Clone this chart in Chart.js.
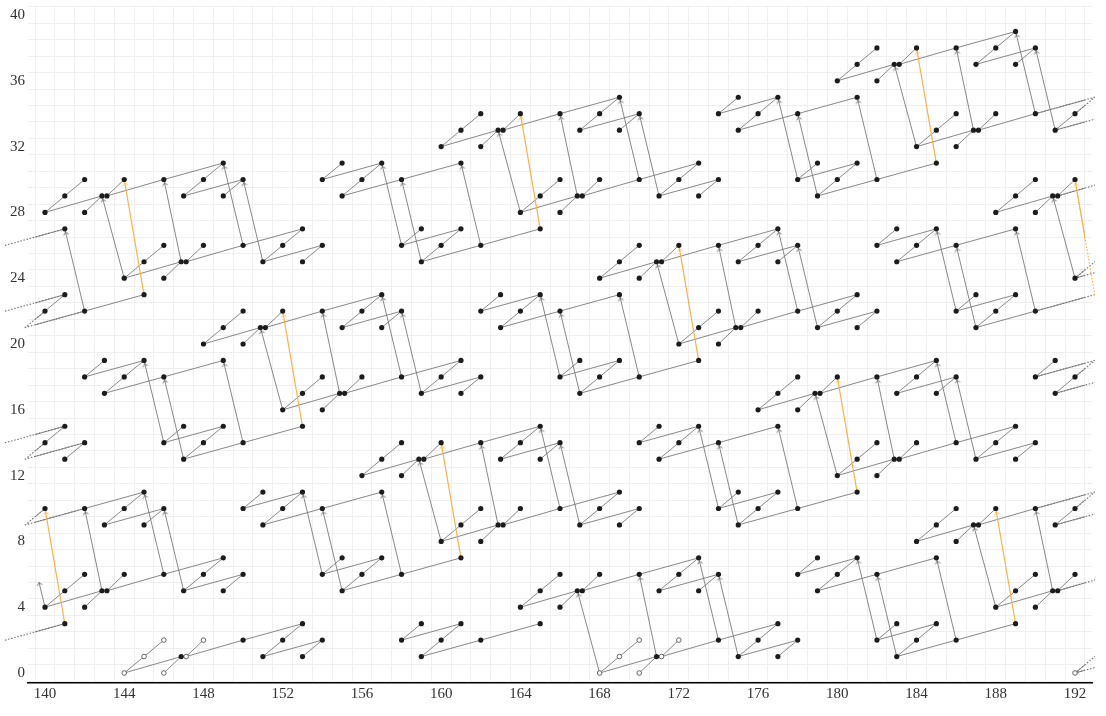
<!DOCTYPE html>
<html><head><meta charset="utf-8">
<script src="https://cdn.jsdelivr.net/npm/chart.js@4.4.1/dist/chart.umd.min.js"></script>
<style>html,body{margin:0;padding:0;background:#fff;}#wrap{width:1106px;height:716px;}</style>
</head><body><div id="wrap"><canvas id="c" width="1106" height="716"></canvas></div>
<script>
// ---------------- data ----------------
const xTickLabels = [140,144,148,152,156,160,164,168,172,176,180,184,188,192];
const yTickLabels = [0,4,8,12,16,20,24,28,32,36,40];

// open circles
const openDots = [[144,0],[146,0],[168,0],[170,0],[192,0],[145,1],[169,1],[146,2],[148,2],[170,2],[172,2]];
// two filled classes at one spot
const filledPairs = [[143,5],[167,5],[191,5],[163,9],[187,9],[159,13],[183,13],[155,17],[179,17],
  [151,21],[175,21],[147,25],[171,25],[143,29],[167,29],[191,29],[163,33],[187,33],[183,37]];
// filled class (left) and open class (right) at one spot
const mixedPairs = [[147,1],[171,1]];
// single filled dots, per row: [y, [x...]]
const filledDotRows = [
 [1,[151,153,159,175,177,183]],
 [2,[150,152,154,158,160,162,174,176,178,182,184,186]],
 [3,[141,153,159,161,165,177,183,185,189]],
 [4,[140,142,164,166,188,190]],
 [5,[141,147,149,155,165,171,173,179,189]],
 [6,[142,144,146,148,150,154,156,158,166,168,170,172,174,178,180,182,190,192]],
 [7,[149,155,157,161,173,179,181,185]],
 [8,[160,162,184,186]],
 [9,[143,145,151,161,167,169,175,185,191]],
 [10,[140,142,144,146,150,152,154,162,164,166,168,170,174,176,178,186,188,190,192]],
 [11,[145,151,153,157,169,175,177,181]],
 [12,[156,158,180,182]],
 [13,[141,147,157,163,165,171,181,187,189]],
 [14,[140,142,146,148,150,158,160,162,164,166,170,172,174,182,184,186,188,190]],
 [15,[141,147,149,153,165,171,173,177,189]],
 [16,[152,154,176,178]],
 [17,[143,153,159,161,167,177,183,185,191]],
 [18,[142,144,146,154,156,158,160,162,166,168,170,178,180,182,184,186,190,192]],
 [19,[143,145,149,161,167,169,173,185,191]],
 [20,[148,150,172,174]],
 [21,[149,155,157,163,173,179,181,187]],
 [22,[140,142,150,152,154,156,158,162,164,166,174,176,178,180,182,186,188,190]],
 [23,[141,145,157,163,165,169,181,187,189]],
 [24,[144,146,168,170,192]],
 [25,[145,151,153,159,169,175,177,183]],
 [26,[146,148,150,152,154,158,160,162,170,172,174,176,178,182,184,186]],
 [27,[141,153,159,161,165,177,183,185,189]],
 [28,[140,142,164,166,188,190]],
 [29,[141,147,149,155,165,171,173,179,189]],
 [30,[142,144,146,148,150,154,156,158,166,168,170,172,174,178,180,182,190,192]],
 [31,[149,155,157,161,173,179,181,185]],
 [32,[160,162,184,186]],
 [33,[161,167,169,175,185,191]],
 [34,[162,164,166,168,170,174,176,178,186,188,190,192]],
 [35,[169,175,177,181]],
 [36,[180,182]],
 [37,[181,187,189]],
 [38,[182,184,186,188,190]],
 [39,[189]]
];

// slope-1 connections [x1,y1,x2,y2]
const h1Segments = [
 [144,0,145,1],[145,1,146,2],[146,0,147,1],[147,1,148,2],[151,1,152,2],[152,2,153,3],[153,1,154,2],[158,2,159,3],[159,1,160,2],[160,2,161,3],
 [168,0,169,1],[169,1,170,2],[170,0,171,1],[171,1,172,2],[175,1,176,2],[176,2,177,3],[177,1,178,2],[182,2,183,3],[183,1,184,2],[184,2,185,3],
 [192,0,193,1],
 [140,4,141,5],[141,5,142,6],[142,4,143,5],[143,5,144,6],[147,5,148,6],[148,6,149,7],[149,5,150,6],[154,6,155,7],[155,5,156,6],[156,6,157,7],
 [164,4,165,5],[165,5,166,6],[166,4,167,5],[167,5,168,6],[171,5,172,6],[172,6,173,7],[173,5,174,6],[178,6,179,7],[179,5,180,6],[180,6,181,7],
 [188,4,189,5],[189,5,190,6],[190,4,191,5],[191,5,192,6],
 [139,9,140,10],[143,9,144,10],[144,10,145,11],[145,9,146,10],[150,10,151,11],[151,9,152,10],[152,10,153,11],
 [160,8,161,9],[161,9,162,10],[162,8,163,9],[163,9,164,10],[167,9,168,10],[168,10,169,11],[169,9,170,10],[174,10,175,11],[175,9,176,10],[176,10,177,11],
 [184,8,185,9],[185,9,186,10],[186,8,187,9],[187,9,188,10],[191,9,192,10],[192,10,193,11],
 [139,13,140,14],[140,14,141,15],[141,13,142,14],[146,14,147,15],[147,13,148,14],[148,14,149,15],
 [156,12,157,13],[157,13,158,14],[158,12,159,13],[159,13,160,14],[163,13,164,14],[164,14,165,15],[165,13,166,14],[170,14,171,15],[171,13,172,14],[172,14,173,15],
 [180,12,181,13],[181,13,182,14],[182,12,183,13],[183,13,184,14],[187,13,188,14],[188,14,189,15],[189,13,190,14],
 [142,18,143,19],[143,17,144,18],[144,18,145,19],
 [152,16,153,17],[153,17,154,18],[154,16,155,17],[155,17,156,18],[159,17,160,18],[160,18,161,19],[161,17,162,18],[166,18,167,19],[167,17,168,18],[168,18,169,19],
 [176,16,177,17],[177,17,178,18],[178,16,179,17],[179,17,180,18],[183,17,184,18],[184,18,185,19],[185,17,186,18],[190,18,191,19],[191,17,192,18],[192,18,193,19],
 [139,21,140,22],[140,22,141,23],
 [148,20,149,21],[149,21,150,22],[150,20,151,21],[151,21,152,22],[155,21,156,22],[156,22,157,23],[157,21,158,22],[162,22,163,23],[163,21,164,22],[164,22,165,23],
 [172,20,173,21],[173,21,174,22],[174,20,175,21],[175,21,176,22],[179,21,180,22],[180,22,181,23],[181,21,182,22],[186,22,187,23],[187,21,188,22],[188,22,189,23],
 [144,24,145,25],[145,25,146,26],[146,24,147,25],[147,25,148,26],[151,25,152,26],[152,26,153,27],[153,25,154,26],[158,26,159,27],[159,25,160,26],[160,26,161,27],
 [168,24,169,25],[169,25,170,26],[170,24,171,25],[171,25,172,26],[175,25,176,26],[176,26,177,27],[177,25,178,26],[182,26,183,27],[183,25,184,26],[184,26,185,27],
 [192,24,193,25],
 [140,28,141,29],[141,29,142,30],[142,28,143,29],[143,29,144,30],[147,29,148,30],[148,30,149,31],[149,29,150,30],[154,30,155,31],[155,29,156,30],[156,30,157,31],
 [164,28,165,29],[165,29,166,30],[166,28,167,29],[167,29,168,30],[171,29,172,30],[172,30,173,31],[173,29,174,30],[178,30,179,31],[179,29,180,30],[180,30,181,31],
 [188,28,189,29],[189,29,190,30],[190,28,191,29],[191,29,192,30],
 [160,32,161,33],[161,33,162,34],[162,32,163,33],[163,33,164,34],[167,33,168,34],[168,34,169,35],[169,33,170,34],[174,34,175,35],[175,33,176,34],[176,34,177,35],
 [184,32,185,33],[185,33,186,34],[186,32,187,33],[187,33,188,34],[191,33,192,34],[192,34,193,35],
 [180,36,181,37],[181,37,182,38],[182,36,183,37],[183,37,184,38],[187,37,188,38],[188,38,189,39],[189,37,190,38]
];

// slope-1/3 connections [x1,y1,x2,y2]
const h2Segments = [
 [138,2,141,3],
 [144,0,147,1],[147,1,150,2],[150,2,153,3],[151,1,154,2],[158,2,161,3],[159,1,162,2],[162,2,165,3],
 [168,0,171,1],[171,1,174,2],[174,2,177,3],[175,1,178,2],[182,2,185,3],[183,1,186,2],[186,2,189,3],
 [192,0,195,1],
 [140,4,143,5],[143,5,146,6],[146,6,149,7],[147,5,150,6],[154,6,157,7],[155,5,158,6],[158,6,161,7],
 [164,4,167,5],[167,5,170,6],[170,6,173,7],[171,5,174,6],[178,6,181,7],[179,5,182,6],[182,6,185,7],
 [188,4,191,5],[191,5,194,6],
 [139,9,142,10],[142,10,145,11],[143,9,146,10],[150,10,153,11],[151,9,154,10],[154,10,157,11],
 [160,8,163,9],[163,9,166,10],[166,10,169,11],[167,9,170,10],[174,10,177,11],[175,9,178,10],[178,10,181,11],
 [184,8,187,9],[187,9,190,10],[190,10,193,11],[191,9,194,10],
 [138,14,141,15],[139,13,142,14],[146,14,149,15],[147,13,150,14],[150,14,153,15],
 [156,12,159,13],[159,13,162,14],[162,14,165,15],[163,13,166,14],[170,14,173,15],[171,13,174,14],[174,14,177,15],
 [180,12,183,13],[183,13,186,14],[186,14,189,15],[187,13,190,14],
 [142,18,145,19],[143,17,146,18],[146,18,149,19],
 [152,16,155,17],[155,17,158,18],[158,18,161,19],[159,17,162,18],[166,18,169,19],[167,17,170,18],[170,18,173,19],
 [176,16,179,17],[179,17,182,18],[182,18,185,19],[183,17,186,18],[190,18,193,19],[191,17,194,18],
 [138,22,141,23],[139,21,142,22],[142,22,145,23],
 [148,20,151,21],[151,21,154,22],[154,22,157,23],[155,21,158,22],[162,22,165,23],[163,21,166,22],[166,22,169,23],
 [172,20,175,21],[175,21,178,22],[178,22,181,23],[179,21,182,22],[186,22,189,23],[187,21,190,22],[190,22,193,23],
 [138,26,141,27],
 [144,24,147,25],[147,25,150,26],[150,26,153,27],[151,25,154,26],[158,26,161,27],[159,25,162,26],[162,26,165,27],
 [168,24,171,25],[171,25,174,26],[174,26,177,27],[175,25,178,26],[182,26,185,27],[183,25,186,26],[186,26,189,27],
 [192,24,195,25],
 [140,28,143,29],[143,29,146,30],[146,30,149,31],[147,29,150,30],[154,30,157,31],[155,29,158,30],[158,30,161,31],
 [164,28,167,29],[167,29,170,30],[170,30,173,31],[171,29,174,30],[178,30,181,31],[179,29,182,30],[182,30,185,31],
 [188,28,191,29],[191,29,194,30],
 [160,32,163,33],[163,33,166,34],[166,34,169,35],[167,33,170,34],[174,34,177,35],[175,33,178,34],[178,34,181,35],
 [184,32,187,33],[187,33,190,34],[190,34,193,35],[191,33,194,34],
 [180,36,183,37],[183,37,186,38],[186,38,189,39],[187,37,190,38]
];

// black differentials [sourceX, sourceY, targetX, targetY]
const d5Arrows = [
 [168,0,167,5],[171,1,170,6],[174,2,173,7],[175,1,174,6],[182,2,181,7],[183,1,182,6],[186,2,185,7],
 [140,4,139,9],[143,5,142,10],[146,6,145,11],[147,5,146,10],[154,6,153,11],[155,5,154,10],[158,6,157,11],
 [188,4,187,9],[191,5,190,10],
 [160,8,159,13],[163,9,162,14],[166,10,165,15],[167,9,166,14],[174,10,173,15],[175,9,174,14],[178,10,177,15],
 [146,14,145,19],[147,13,146,18],[150,14,149,19],
 [180,12,179,17],[183,13,182,18],[186,14,185,19],[187,13,186,18],
 [152,16,151,21],[155,17,154,22],[158,18,157,23],[159,17,158,22],[166,18,165,23],[167,17,166,22],[170,18,169,23],
 [142,22,141,27],
 [172,20,171,25],[175,21,174,26],[178,22,177,27],[179,21,178,26],[186,22,185,27],[187,21,186,26],[190,22,189,27],
 [144,24,143,29],[147,25,146,30],[150,26,149,31],[151,25,150,30],[158,26,157,31],[159,25,158,30],[162,26,161,31],
 [192,24,191,29],
 [164,28,163,33],[167,29,166,34],[170,30,169,35],[171,29,170,34],[178,30,177,35],[179,29,178,34],[182,30,181,35],
 [184,32,183,37],[187,33,186,38],[190,34,189,39],[191,33,190,38]
];
// orange differentials [sourceX, sourceY, targetX, targetY]
const d7Arrows = [
 [141,3,140,10],[161,7,160,14],[181,11,180,18],[189,3,188,10],[153,15,152,22],
 [173,19,172,26],[193,23,192,30],[145,23,144,30],[165,27,164,34],[185,31,184,38]
];

// ---------------- drawing setup ----------------
const X_MIN = 139.1417, X_MAX = 192.858, Y_MIN = -0.608, Y_MAX = 40.547;
const DOT_LO = 140, DOT_HI = 192;      // dots drawn in this stem range
const PAIR_DX = 0.125;                 // horizontal offset of doubled dots
const STUB = 0.3;                      // fraction drawn for differentials leaving the chart
const LINE_COLOR = '#7a7a7a', DOT_COLOR = '#1c1c1c', ORANGE = '#f6b449';
const FONT = {family: '"Liberation Serif","DejaVu Serif",serif', size: 15};

const pairKeys = new Set([...filledPairs, ...mixedPairs].map(p => p[0] + ',' + p[1]));
function offX(x, y, role) {
  if (!pairKeys.has(x + ',' + y)) return x;
  return role === 'start' ? x + PAIR_DX : x - PAIR_DX;
}
const outside = x => x < DOT_LO || x > DOT_HI;

function segs(list, onlyOutside) {
  const out = [];
  list.forEach(([x1, y1, x2, y2]) => {
    if (onlyOutside && !(outside(x1) || outside(x2))) return;
    out.push({x: offX(x1, y1, 'start'), y: y1}, {x: offX(x2, y2, 'end'), y: y2}, {x: null, y: null});
  });
  return out;
}
const hAll = [...h1Segments, ...h2Segments];

// dots
const filledPts = [];
filledDotRows.forEach(([y, xs]) => xs.forEach(x => filledPts.push({x, y})));
filledPairs.forEach(([x, y]) => { filledPts.push({x: x - PAIR_DX, y}, {x: x + PAIR_DX, y}); });
mixedPairs.forEach(([x, y]) => filledPts.push({x: x - PAIR_DX, y}));
const openPts = openDots.map(([x, y]) => ({x, y}));
mixedPairs.forEach(([x, y]) => openPts.push({x: x + PAIR_DX, y}));

// differentials
function diffData(list) {
  const lines = [], heads = [], stubHeads = [];
  list.forEach(([sx, sy, tx, ty]) => {
    const sX = outside(sx) ? sx : offX(sx, sy, 'diff');
    if (outside(tx)) {
      const ex = sX + STUB * (tx - sX), ey = sy + STUB * (ty - sy);
      lines.push({x: sX, y: sy}, {x: ex, y: ey}, {x: null, y: null});
      stubHeads.push({x: ex, y: ey, sx: sX, sy, tx: ex, ty: ey});
    } else {
      const tX = offX(tx, ty, 'diff');
      lines.push({x: sX, y: sy}, {x: tX, y: ty}, {x: null, y: null});
      heads.push({x: tX, y: ty, sx: sX, sy, tx: tX, ty});
    }
  });
  return {lines, heads, stubHeads};
}
const D5 = diffData(d5Arrows);
const D7 = diffData(d7Arrows);
const d7Tails = [];
d7Arrows.forEach(([sx, sy, tx, ty]) => { if (outside(sx)) d7Tails.push({x: sx, y: sy}, {x: tx, y: ty}, {x: null, y: null}); });

function makeHead(color, tipBack) {
  const c = document.createElement('canvas'); c.width = 18; c.height = 18;
  const g = c.getContext('2d');
  g.strokeStyle = color; g.lineWidth = 0.9; g.lineCap = 'round'; g.lineJoin = 'round';
  const cx = 9, ty = 9 + tipBack;
  g.beginPath(); g.moveTo(cx - 2.3, ty + 2.6); g.lineTo(cx, ty); g.lineTo(cx + 2.3, ty + 2.6); g.stroke();
  return c;
}
const headBlack = makeHead('#555', 3.4), headOrange = makeHead(ORANGE, 3.4), headStub = makeHead('#555', 0);
function rot(list) {
  return ctx => {
    const a = list[ctx.dataIndex]; if (!a) return 0;
    const xs = ctx.chart.scales.x, ys = ctx.chart.scales.y;
    const dx = xs.getPixelForValue(a.tx) - xs.getPixelForValue(a.sx);
    const dy = ys.getPixelForValue(a.ty) - ys.getPixelForValue(a.sy);
    return Math.atan2(dx, -dy) * 180 / Math.PI;
  };
}
const lineBase = {showLine: true, pointRadius: 0, pointHoverRadius: 0, borderColor: LINE_COLOR, borderWidth: 0.9, tension: 0, fill: false};
const innerClip = {left: -7, right: -7, top: 0, bottom: 0};
const tailClip = {left: 26, right: 3, top: 0, bottom: 0};

const datasets = [
  {label: 'filled', data: filledPts, showLine: false, pointRadius: 2.6, pointBackgroundColor: DOT_COLOR, pointBorderWidth: 0, clip: false, order: 1},
  {label: 'open', data: openPts, showLine: false, pointRadius: 2.3, pointBackgroundColor: '#fff', pointBorderColor: '#555', pointBorderWidth: 0.9, clip: false, order: 1},
  {label: 'd5 heads', data: D5.heads, showLine: false, pointStyle: headBlack, pointRadius: 6, pointRotation: rot(D5.heads), clip: false, order: 2},
  {label: 'd5 stub heads', data: D5.stubHeads, showLine: false, pointStyle: headStub, pointRadius: 6, pointRotation: rot(D5.stubHeads), clip: false, order: 2},
  {label: 'd7 heads', data: D7.heads, showLine: false, pointStyle: headOrange, pointRadius: 6, pointRotation: rot(D7.heads), clip: false, order: 2},
  Object.assign({label: 'd7', data: D7.lines, clip: innerClip, order: 3}, lineBase, {borderColor: ORANGE, borderWidth: 1.2}),
  Object.assign({label: 'd7 tail', data: d7Tails, clip: tailClip, order: 3}, lineBase, {borderColor: ORANGE, borderWidth: 1.2, borderDash: [0.6, 2.6], borderCapStyle: 'round'}),
  Object.assign({label: 'd5', data: D5.lines, clip: 0, order: 4}, lineBase),
  Object.assign({label: 'h lines', data: segs(hAll, false), clip: innerClip, order: 5}, lineBase),
  Object.assign({label: 'h tails', data: segs(hAll, true), clip: tailClip, order: 5}, lineBase, {borderWidth: 1.2, borderDash: [0.6, 2.6], borderCapStyle: 'round'})
];

const GRID = '#efefef';
new Chart(document.getElementById('c'), {
  type: 'scatter',
  data: {datasets},
  options: {
    responsive: false, animation: false, devicePixelRatio: 1, events: [],
    layout: {padding: {left: 0, right: 14, top: 6, bottom: 0}, autoPadding: false},
    plugins: {legend: {display: false}, tooltip: {enabled: false}},
    scales: {
      x: {type: 'linear', position: 'bottom', min: X_MIN, max: X_MAX,
          afterBuildTicks: s => { s.ticks = xTickLabels.map(v => ({value: v})); },
          afterFit: s => { s.height = 33; s.paddingLeft = 0; s.paddingRight = 0; },
          grid: {display: false, drawTicks: false},
          border: {display: true, color: '#000', width: 1.6},
          ticks: {padding: 2, color: '#333', font: FONT, maxRotation: 0, autoSkip: false}},
      y: {type: 'linear', position: 'left', min: Y_MIN, max: Y_MAX,
          afterBuildTicks: s => { s.ticks = yTickLabels.map(v => ({value: v})); },
          afterFit: s => { s.width = 28; s.paddingTop = 0; s.paddingBottom = 0; },
          grid: {display: false, drawTicks: false},
          border: {display: false},
          ticks: {padding: 3, color: '#333', font: FONT, autoSkip: false}},
      xg: {type: 'linear', position: 'bottom', min: X_MIN, max: X_MAX,
          afterBuildTicks: s => { const t = []; for (let v = 139.5; v <= 192.5; v += 1) t.push({value: v}); s.ticks = t; },
          afterFit: s => { s.height = 0; s.paddingLeft = 0; s.paddingRight = 0; },
          grid: {display: true, color: GRID, lineWidth: 1, drawTicks: false},
          border: {display: false}, ticks: {display: false}},
      yg: {type: 'linear', position: 'left', min: Y_MIN, max: Y_MAX,
          afterBuildTicks: s => { const t = []; for (let v = -0.5; v <= 40.5; v += 1) t.push({value: v}); s.ticks = t; },
          afterFit: s => { s.width = 0; s.paddingTop = 0; s.paddingBottom = 0; },
          grid: {display: true, color: GRID, lineWidth: 1, drawTicks: false},
          border: {display: false}, ticks: {display: false}}
    }
  }
});
</script></body></html>
